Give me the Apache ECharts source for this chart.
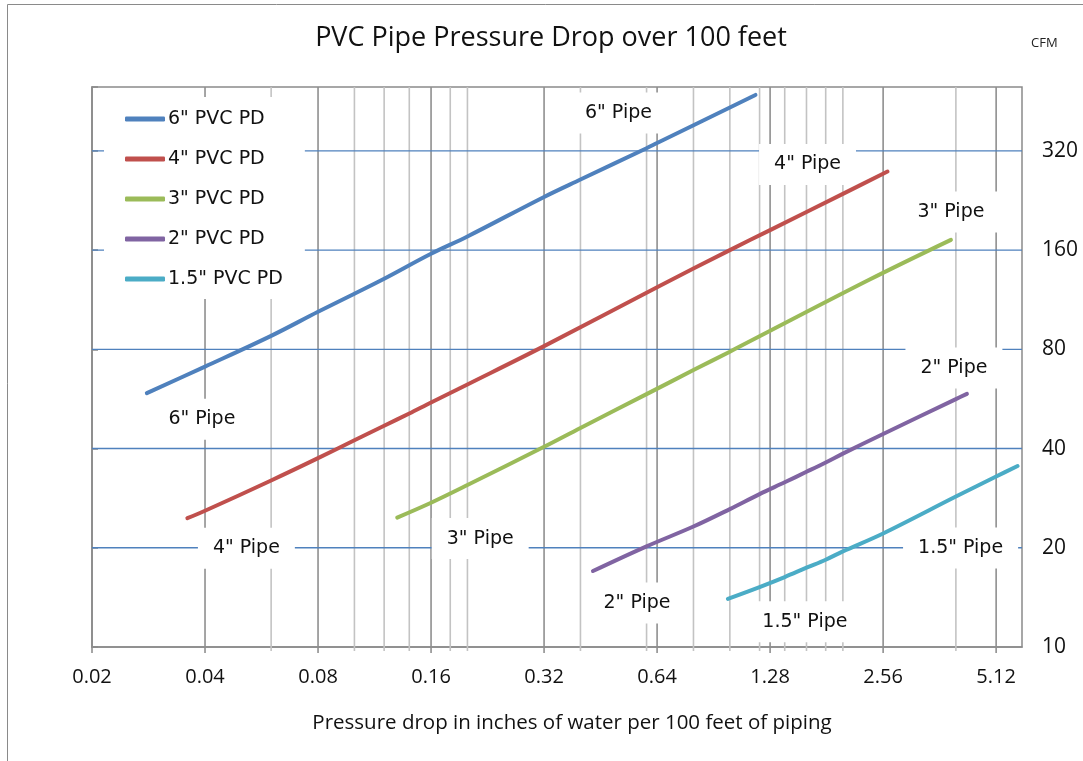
<!DOCTYPE html>
<html>
<head>
<meta charset="utf-8">
<title>PVC Pipe Pressure Drop over 100 feet</title>
<script src="https://cdn.jsdelivr.net/npm/echarts@6/dist/echarts.min.js"></script>
<style>
  html, body { margin: 0; padding: 0; background: #fff; }
  #chart { width: 1083px; height: 761px; }
</style>
</head>
<body>
<div id="chart"></div>
<script>
// Pressure drop (inches of water per 100 ft) against airflow (CFM), per pipe size
const pressure6 = [0.028, 0.04, 0.06, 0.08, 0.1, 0.12, 0.16, 0.2, 0.32, 0.4, 0.6, 0.64, 1.17];
const cfm6      = [58.9, 70.9, 87.9, 104, 118, 131, 156, 176, 232, 262, 326, 338, 473];

const pressure4 = [0.0359, 0.04, 0.06, 0.08, 0.1, 0.12, 0.14, 0.16, 0.2, 0.32, 0.64, 1.0, 1.28, 2.0, 2.63];
const cfm4      = [24.6, 25.9, 32.0, 37.4, 42.4, 46.9, 51.1, 55.2, 62.6, 81.8, 123.5, 160, 184, 237, 277];

const pressure3 = [0.130, 0.16, 0.2, 0.32, 0.4, 0.6, 0.8, 1.0, 2.35, 3.88];
const cfm3      = [24.7, 27.4, 31.0, 40.5, 46.2, 58.5, 69.2, 78.7, 130, 171.8];

const pressure2 = [0.432, 0.6, 0.8, 1.0, 1.2, 1.4, 1.6, 1.8, 2.0, 2.56, 4.0, 4.28];
const cfm2      = [17.0, 20.2, 23.2, 26.2, 29.1, 31.6, 34.0, 36.3, 38.6, 44.3, 56.5, 58.6];

const pressure15 = [0.988, 1.2, 1.4, 1.6, 1.8, 2.0, 2.56, 4.0, 5.12, 5.84];
const cfm15      = [14.0, 15.2, 16.3, 17.4, 18.4, 19.5, 22.1, 28.6, 32.9, 35.4];

const seriesNames = ['6" PVC PD', '4" PVC PD', '3" PVC PD', '2" PVC PD', '1.5" PVC PD'];
const pipeNames   = ['6" Pipe', '4" Pipe', '3" Pipe', '2" Pipe', '1.5" Pipe'];

// Axis ranges and tick labels (both axes are base-2 logarithmic)
const xMin = 0.02, xMax = 6;
const yMin = 10, yMax = 500;
const xTickLabels = ['0.02', '0.04', '0.08', '0.16', '0.32', '0.64', '1.28', '2.56', '5.12'];
const yTickLabels = ['10', '20', '40', '80', '160', '320'];

// Vertical reference lines along the pressure axis
const majorDropLines = [0.02, 0.04, 0.08, 0.16, 0.32, 0.64, 1.28, 2.56, 5.12];
const minorDropLines = [0.06, 0.1, 0.12, 0.14, 0.18, 0.2, 0.4, 0.6, 0.8, 1.0, 1.2, 1.4, 1.6, 1.8, 2.0, 4.0];
// Horizontal reference lines along the CFM axis
const cfmLines = [20, 40, 80, 160, 320];

const colors = ['#4f81bd', '#c0504d', '#9bbb59', '#8064a2', '#4bacc6'];

// log2 transforms onto the axes
const lx = p => Math.log2(p / xMin);
const ly = c => Math.log2(c / yMin);
const X_TOP = lx(xMax);
const Y_TOP = ly(yMax);

const pressures = [pressure6, pressure4, pressure3, pressure2, pressure15];
const flows = [cfm6, cfm4, cfm3, cfm2, cfm15];

// Placement of the pipe-size tags next to the first and last point of each curve
const tagOffsets = [
  { start: [55, 26],  end: [-137, 18] },
  { start: [59, 30],  end: [-80, -7] },
  { start: [83, 21],  end: [0, -28] },
  { start: [44, 32],  end: [-13, -26] },
  { start: [77, 23],  end: [-57, 82] }
];

const tagStyle = {
  show: true,
  position: 'inside',
  fontFamily: 'DejaVu Sans',
  fontSize: 19,
  color: '#111',
  backgroundColor: '#ffffff',
  padding: [11, 15]
};

function buildSeriesData(k) {
  const px = pressures[k], fy = flows[k];
  const last = px.length - 1;
  return px.map((p, i) => {
    const item = { value: [lx(p), ly(fy[i])] };
    if (i === 0 || i === last) {
      item.label = Object.assign({}, tagStyle, {
        formatter: pipeNames[k],
        offset: i === 0 ? tagOffsets[k].start : tagOffsets[k].end
      });
    }
    return item;
  });
}

const lineSeries = seriesNames.map((name, k) => ({
  name: name,
  type: 'line',
  data: buildSeriesData(k),
  smooth: 0.35,
  showSymbol: true,
  symbol: 'circle',
  symbolSize: 1,
  itemStyle: { color: colors[k] },
  lineStyle: { color: colors[k], width: 4, cap: 'round', join: 'round' },
  label: { show: false },
  z: 3,
  animation: false,
  silent: true
}));

function verticalLines(values, color, tickLen, name) {
  return {
    name: name,
    type: 'custom',
    coordinateSystem: 'cartesian2d',
    data: values.map(v => [lx(v), 0]),
    renderItem: function (params, api) {
      const x = api.value(0);
      const b = api.coord([x, 0]);
      const t = api.coord([x, Y_TOP]);
      return {
        type: 'line',
        shape: { x1: b[0], y1: b[1] + tickLen, x2: t[0], y2: t[1] },
        style: { stroke: color, lineWidth: 1.6 }
      };
    },
    clip: false,
    silent: true,
    animation: false,
    z: 1
  };
}

const horizontalLines = {
  name: 'cfmGrid',
  type: 'custom',
  coordinateSystem: 'cartesian2d',
  data: cfmLines.map(v => [0, ly(v)]),
  renderItem: function (params, api) {
    const y = api.value(1);
    const l = api.coord([0, y]);
    const r = api.coord([X_TOP, y]);
    return {
      type: 'line',
      shape: { x1: l[0], y1: l[1], x2: r[0], y2: r[1] },
      style: { stroke: '#4f81bd', lineWidth: 1.4 }
    };
  },
  clip: false,
  silent: true,
  animation: false,
  z: 1
};

const axisFont = 'Open Sans';

const chart = echarts.init(document.getElementById('chart'), null, { renderer: 'canvas' });
chart.setOption({
  backgroundColor: '#ffffff',
  animation: false,
  title: {
    text: 'PVC Pipe Pressure Drop over 100 feet',
    left: 546,
    textAlign: 'center',
    top: 20,
    textStyle: { fontFamily: axisFont, fontSize: 27, fontWeight: 'normal', color: '#111' }
  },
  graphic: [{
    type: 'rect',
    shape: { x: 7.5, y: 4.5, width: 1200, height: 900 },
    style: { fill: 'none', stroke: '#8a8a8a', lineWidth: 1 },
    silent: true,
    z: -10
  }, {
    // unit caption of the CFM axis
    type: 'text',
    left: 1031,
    top: 37,
    style: { text: 'CFM', font: '13px "Open Sans"', fill: '#222' },
    silent: true
  }],
  legend: {
    data: seriesNames,
    orient: 'vertical',
    left: 104,
    top: 97,
    padding: [12, 22, 10, 21],
    itemGap: 20,
    itemWidth: 40,
    itemHeight: 5,
    icon: 'roundRect',
    backgroundColor: '#ffffff',
    textStyle: { fontFamily: 'DejaVu Sans', fontSize: 19, color: '#111', lineHeight: 20, padding: [0, 0, 0, -2] },
    selectedMode: false
  },
  grid: {
    left: 92,
    right: 61,
    top: 87,
    bottom: 114,
    show: true,
    borderColor: '#8a8a8a',
    borderWidth: 1.5,
    backgroundColor: 'transparent'
  },
  xAxis: {
    type: 'value',
    min: 0,
    max: X_TOP,
    interval: 1,
    name: 'Pressure drop in inches of water per 100 feet of piping',
    nameLocation: 'middle',
    nameGap: 66,
    nameTextStyle: { fontFamily: axisFont, fontSize: 20.5, color: '#111', padding: [0, 0, 0, 30] },
    axisLine: { show: true, lineStyle: { color: '#8a8a8a', width: 1.5 } },
    axisTick: { show: false },
    splitLine: { show: false },
    axisLabel: {
      fontFamily: axisFont,
      fontSize: 20,
      color: '#111',
      margin: 20,
      formatter: function (v) {
        const r = Math.round(v);
        return Math.abs(v - r) < 1e-6 && xTickLabels[r] !== undefined ? xTickLabels[r] : '';
      }
    }
  },
  yAxis: {
    type: 'value',
    position: 'right',
    min: 0,
    max: Y_TOP,
    interval: 1,
    axisLine: { show: true, lineStyle: { color: '#8a8a8a', width: 1.5 } },
    axisTick: { show: true, length: 6, lineStyle: { color: '#8a8a8a', width: 1.5 } },
    splitLine: { show: false },
    axisLabel: {
      fontFamily: axisFont,
      fontSize: 21,
      color: '#111',
      margin: 20,
      formatter: function (v) {
        const r = Math.round(v);
        return Math.abs(v - r) < 1e-6 && yTickLabels[r] !== undefined ? yTickLabels[r] : '';
      }
    }
  },
  series: [
    verticalLines(minorDropLines, '#c3c3c3', 4, 'minorGrid'),
    verticalLines(majorDropLines, '#8f8f8f', 6, 'majorGrid'),
    horizontalLines
  ].concat(lineSeries)
});
</script>
</body>
</html>
